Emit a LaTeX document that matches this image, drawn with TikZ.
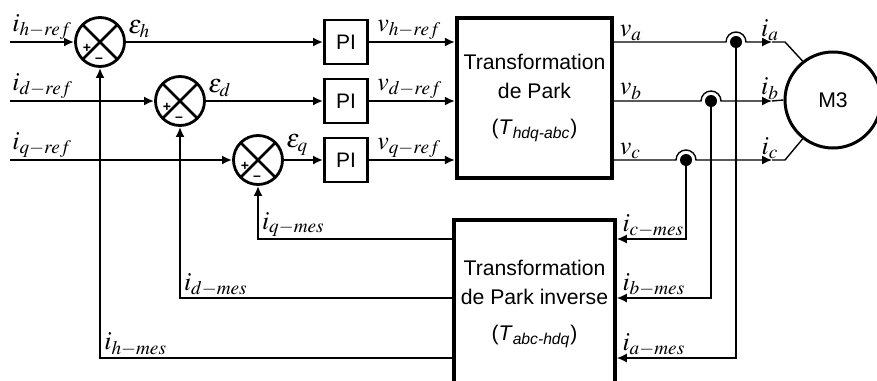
\documentclass[tikz,border=0pt]{standalone}
\usepackage{mathptmx}
\usepackage[no-math]{fontspec}
\setmainfont{Liberation Sans}
\usetikzlibrary{arrows.meta,calc,positioning}
\tikzstyle{sum} = [circle, draw, line width=1.4pt, minimum size=24.5pt, inner sep=0pt,
    path picture={\draw[line width=1.4pt] (path picture bounding box.north west) -- (path picture bounding box.south east)
    (path picture bounding box.north east) -- (path picture bounding box.south west);}]
\tikzstyle{piblock} = [rectangle, draw, line width=1.4pt, minimum width=21.5pt, minimum height=22pt,
    inner sep=0pt, font=\fontsize{10.5}{12}\selectfont]
\tikzstyle{park} = [rectangle, draw, line width=2pt, minimum width=75.5pt, minimum height=80pt,
    align=center, font=\fontsize{10.6}{14.5}\selectfont]
\tikzstyle{motor} = [circle, draw, line width=1.5pt, minimum size=48pt, font=\fontsize{10.6}{12}\selectfont]
\tikzstyle{dot} = [circle, fill, inner sep=0pt, minimum size=6pt]
\tikzstyle{sign} = [inner sep=0pt, font=\fontsize{7}{7}\selectfont\bfseries]
\tikzstyle{lbl} = [inner sep=0.5pt, font=\fontsize{13}{13}\selectfont]
\tikzstyle{line} = [draw, line width=1.4pt, -{Latex[length=5pt,width=4.5pt]}]
\tikzstyle{wire} = [draw, line width=0.7pt]

\begin{document}
\begin{tikzpicture}[x=0.5pt,y=-0.5pt]
    \useasboundingbox (0,0) rectangle (877,380);
    % Place nodes
    \node [sum] (sumh) at (100,42) {};
    \node [sum] (sumd) at (180,101) {};
    \node [sum] (sumq) at (258,160) {};
    \node [sign] (plh) at ($(sumh)+(-13,6)$) {+};
    \node [sign] (mih) at ($(sumh)+(-1,18)$) {--};
    \node [sign] (pld) at ($(sumd)+(-13,6)$) {+};
    \node [sign] (mid) at ($(sumd)+(-1,18)$) {--};
    \node [sign] (plq) at ($(sumq)+(-13,6)$) {+};
    \node [sign] (miq) at ($(sumq)+(-1,18)$) {--};

    \node [piblock, right of=sumh, node distance=123pt] (pih) {PI};
    \node [piblock, below of=pih, node distance=29.5pt] (pid) {PI};
    \node [piblock, below of=pid, node distance=29.5pt] (piq) {PI};

    \node [park] (park) at (534.5,98) {Transformation\\de Park\\[3.5pt](\textit{T}\textsubscript{\textit{hdq-abc}})};
    \node [park, below of=park, node distance=103pt, minimum height=84pt] (invpark) {Transformation\\de Park inverse\\[3.5pt](\textit{T}\textsubscript{\textit{abc-hdq}})};

    \node [motor] (motor) at (833,100) {M3};

    \node [dot] (dota) at (736,42) {};
    \node [dot] (dotb) at (711,101) {};
    \node [dot] (dotc) at (686,160) {};

    \coordinate (inh) at (10,42);
    \coordinate (ind) at (10,101);
    \coordinate (inq) at (10,160);
    \coordinate (ta) at (772,42);
    \coordinate (tb) at (772,101);
    \coordinate (tc) at (772,160);
    \coordinate (ka) at (785,42);
    \coordinate (kc) at (785,160);
    \coordinate (rowc) at (0,239);
    \coordinate (rowb) at (0,298);
    \coordinate (rowa) at (0,358);

    % Draw edges
    \path [line] (inh) node[lbl, above right] (ihr) {$i_{h-ref}$} -- (sumh);
    \path [line] (ind) node[lbl, above right] (idr) {$i_{d-ref}$} -- (sumd);
    \path [line] (inq) node[lbl, above right] (iqr) {$i_{q-ref}$} -- (sumq);

    \path [line] (sumh) -- node[lbl, pos=0, above right, yshift=1pt] (eh) {$\varepsilon_h$} (pih);
    \path [line] (sumd) -- node[lbl, pos=0, above right, yshift=1pt] (ed) {$\varepsilon_d$} (pid);
    \path [line] (sumq) -- node[lbl, pos=0, above right, yshift=1pt] (eq) {$\varepsilon_q$} (piq);

    \path [line] (pih) -- node[lbl, pos=0, above right, xshift=3pt] (vhr) {$v_{h-ref}$} (pih -| park.west);
    \path [line] (pid) -- node[lbl, pos=0, above right, xshift=3pt] (vdr) {$v_{d-ref}$} (pid -| park.west);
    \path [line] (piq) -- node[lbl, pos=0, above right, xshift=3pt] (vqr) {$v_{q-ref}$} (piq -| park.west);

    \path [wire, -{Latex[length=5pt,width=4.5pt]}] (park.east |- pih) node[lbl, above right, xshift=2pt] (va) {$v_a$}
        -- ([xshift=-5pt]dota.center) arc[start angle=180, end angle=0, radius=5pt] -- (ta);
    \path [wire, -{Latex[length=5pt,width=4.5pt]}] (park.east |- pid) node[lbl, above right, xshift=2pt] (vb) {$v_b$}
        -- ([xshift=-5pt]dotb.center) arc[start angle=180, end angle=0, radius=5pt] -- (tb);
    \path [wire, -{Latex[length=5pt,width=4.5pt]}] (park.east |- piq) node[lbl, above right, xshift=2pt] (vc) {$v_c$}
        -- ([xshift=-5pt]dotc.center) arc[start angle=180, end angle=0, radius=5pt] -- (tc);

    \path [wire] (ta) node[lbl, above, xshift=-1pt] (ia) {$i_a$} -- (ka) -- (motor.128);
    \path [wire] (tb) node[lbl, above, xshift=-1pt] (ib) {$i_b$} -- (motor.west);
    \path [wire] (tc) node[lbl, above, xshift=-1pt] (ic) {$i_c$} -- (kc) -- (motor.232);

    \path [wire, -{Latex[length=5pt,width=4.5pt]}] (dotc) |- node[lbl, pos=1, above right, xshift=2pt] (icm) {$i_{c-mes}$} (invpark.east |- rowc);
    \path [wire, -{Latex[length=5pt,width=4.5pt]}] (dotb) |- node[lbl, pos=1, above right, xshift=2pt] (ibm) {$i_{b-mes}$} (invpark.east |- rowb);
    \path [wire, -{Latex[length=5pt,width=4.5pt]}] (dota) |- node[lbl, pos=1, above right, xshift=2pt] (iam) {$i_{a-mes}$} (invpark.east |- rowa);

    \path [line, line width=1pt] (invpark.west |- rowc) -| node[lbl, pos=0.5, above right, xshift=1pt] (iqm) {$i_{q-mes}$} (sumq);
    \path [line, line width=1pt] (invpark.west |- rowb) -| node[lbl, pos=0.5, above right, xshift=1pt] (idm) {$i_{d-mes}$} (sumd);
    \path [line, line width=1.3pt] (invpark.west |- rowa) -| node[lbl, pos=0.5, above right, xshift=1pt] (ihm) {$i_{h-mes}$} (sumh);
\end{tikzpicture}
\end{document}
